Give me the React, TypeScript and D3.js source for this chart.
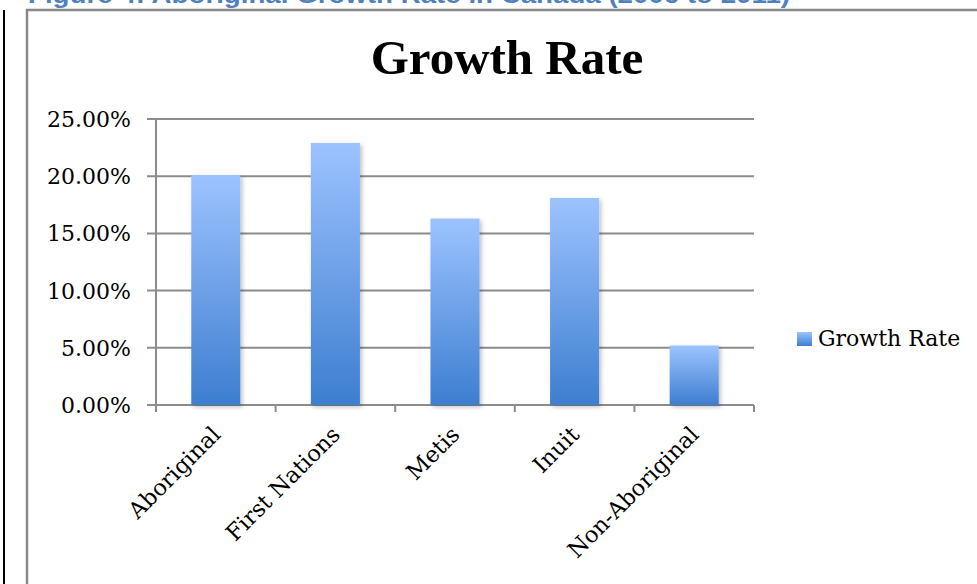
import React from 'react';
import * as d3 from 'd3';

const categories = ['Aboriginal', 'First Nations', 'Metis', 'Inuit', 'Non-Aboriginal'];
const growthRates = [20.1, 22.9, 16.3, 18.1, 5.2];
const yTicks = [0, 5, 10, 15, 20, 25];
const chartTitle = 'Growth Rate';
const seriesName = 'Growth Rate';
const figureCaption = 'Figure 4: Aboriginal Growth Rate in Canada (2006 to 2011)';

const W = 977;
const H = 584;
const plotLeft = 156;
const plotRight = 754;
const plotTop = 119;
const plotBottom = 405;
const gridColor = '#8c8c8c';
const serif = '"DejaVu Serif", serif';

export default function App() {
  const x = d3.scaleBand<string>().domain(categories).range([plotLeft, plotRight]).paddingInner(0.59).paddingOuter(0.295);
  const y = d3.scaleLinear().domain([0, 25]).range([plotBottom, plotTop]);
  const step = x.step();
  const boundaries = d3.range(categories.length + 1).map((i) => plotLeft + i * step);
  const fmt = (v: number) => v.toFixed(2) + '%';

  return (
    <svg width={W} height={H} style={{ position: 'absolute', left: 0, top: 0, background: '#fff' }}>
      <defs>
        <linearGradient id="barGrad" x1="0" y1="0" x2="0" y2="1">
          <stop offset="0%" stopColor="#9cc3ff" />
          <stop offset="100%" stopColor="#3d7ed0" />
        </linearGradient>
        <filter id="shadow" x="-20%" y="-20%" width="140%" height="140%">
          <feDropShadow dx="2" dy="2" stdDeviation="2" floodColor="#000" floodOpacity="0.25" />
        </filter>
      </defs>

      {/* caption (cut off at top, as in the source page) */}
      <text x={28} y={3} fill="#4f81bd" fontFamily='"Liberation Sans", Arial, sans-serif' fontWeight="bold" fontSize={23}
        textLength={762} lengthAdjust="spacingAndGlyphs">{figureCaption}</text>

      {/* page left rule */}
      <line x1={4} x2={4} y1={10} y2={H} stroke="#000" strokeWidth={2} />
      {/* chart frame */}
      <path d={`M27,${H} V10 H${W}`} fill="none" stroke="#888" strokeWidth={2.5} />

      {/* title */}
      <text x={507} y={74} textAnchor="middle" fontFamily='"Liberation Serif", serif' fontWeight="bold" fontSize={49} fill="#000">{chartTitle}</text>

      {/* gridlines */}
      {yTicks.map((t) => (
        <g key={t}>
          <line x1={plotLeft - 9} x2={plotRight} y1={y(t)} y2={y(t)} stroke={gridColor} strokeWidth={2} />
          <text x={131} y={y(t) + 8} textAnchor="end" fontFamily={serif} fontSize={22} fill="#000">{fmt(t)}</text>
        </g>
      ))}

      {/* axes */}
      <line x1={plotLeft} x2={plotLeft} y1={plotTop} y2={plotBottom + 6} stroke={gridColor} strokeWidth={2} />
      {boundaries.map((bx, i) => (
        <line key={i} x1={bx} x2={bx} y1={plotBottom} y2={plotBottom + 7} stroke={gridColor} strokeWidth={2} />
      ))}

      {/* bars */}
      {categories.map((c, i) => (
        <rect key={c} x={x(c)} y={y(growthRates[i])} width={x.bandwidth()} height={plotBottom - y(growthRates[i])}
          fill="url(#barGrad)" filter="url(#shadow)" />
      ))}

      {/* category labels */}
      {categories.map((c) => {
        const cx = (x(c) as number) + x.bandwidth() / 2 + 6;
        const cy = 436;
        return (
          <text key={c} x={cx} y={cy} transform={`rotate(-45 ${cx} ${cy})`} textAnchor="end" fontFamily={serif} fontSize={22.5} fill="#000">{c}</text>
        );
      })}

      {/* legend */}
      <rect x={797} y={332} width={15} height={14} fill="url(#barGrad)" />
      <text x={818} y={346} fontFamily={serif} fontSize={22} fill="#000">{seriesName}</text>
    </svg>
  );
}
